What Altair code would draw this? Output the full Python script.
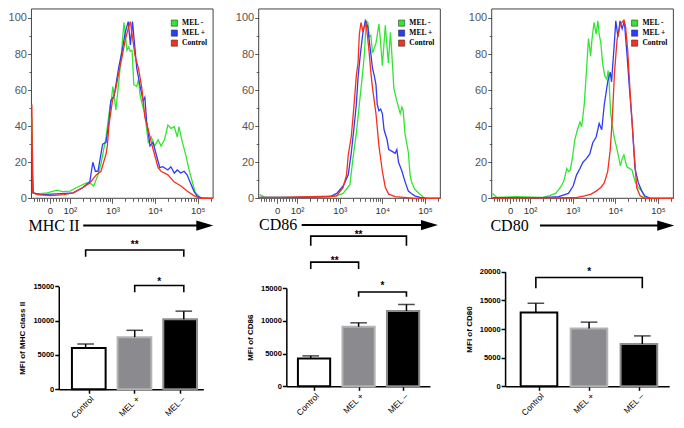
import altair as alt
import numpy as np
import pandas as pd

W, H = 668, 412
SX, SY = W / 684.0, H / 428.0


def px(v):
    return round(v * SX, 2)


def py(v):
    return round(v * SY, 2)


# ---------------- histogram data (x: display log10 fluorescence, y: % of max) ----
series_names = ["MEL -", "MEL +", "Control"]
series_colors = ["#33e533", "#2d3cf5", "#f5301e"]

mhc_ctrl_t = [1.11, 1.13, 1.24, 1.55, 1.86, 2.08, 2.31, 2.47, 2.62, 2.73, 2.85, 2.88, 2.92, 3.00, 3.08,
              3.15, 3.23, 3.30, 3.38, 3.42, 3.46, 3.53, 3.61, 3.69, 3.76, 3.84, 3.91, 3.99, 4.07, 4.14,
              4.30, 4.45, 4.60, 4.75, 4.91, 5.06, 5.36]
mhc_ctrl_y = [52, 3, 2, 1.5, 2, 3, 6, 8.5, 13, 15, 24.5, 29, 41, 54, 61, 70, 79, 88, 95, 98,
              91, 79, 72, 61, 45, 38, 31, 24, 17, 15, 13, 9, 7, 4, 1.5, 0, 0]
mhc_plus_t = [1.11, 1.14, 1.32, 1.70, 2.08, 2.31, 2.47, 2.54, 2.60, 2.66, 2.77, 2.85, 2.92, 2.96, 3.04,
              3.15, 3.23, 3.30, 3.37, 3.42, 3.47, 3.57, 3.65, 3.72, 3.76, 3.80, 3.88, 3.95, 4.03, 4.11,
              4.18, 4.30, 4.37, 4.45, 4.52, 4.60, 4.68, 4.75, 4.83, 4.91, 4.98, 5.10, 5.36]
mhc_plus_y = [20, 3, 2, 2.5, 3, 6, 9.4, 20, 15, 15, 30, 31, 43, 54, 57, 73, 82, 92, 98, 85,
              98, 72, 62, 54, 56, 43, 29, 31, 24, 17, 17.5, 15.7, 17.5, 14, 15.7, 14, 15, 13, 8.5, 4,
              1.4, 0, 0]
mhc_minus_t = [1.11, 1.14, 1.24, 1.47, 1.70, 1.82, 2.01, 2.16, 2.39, 2.50, 2.56, 2.66, 2.73, 2.77, 2.85,
               2.92, 2.98, 3.01, 3.08, 3.15, 3.19, 3.23, 3.27, 3.30, 3.34, 3.38, 3.42, 3.46, 3.50, 3.57,
               3.61, 3.65, 3.72, 3.76, 3.84, 3.91, 3.99, 4.07, 4.14, 4.22, 4.30, 4.37, 4.45, 4.52, 4.56,
               4.64, 4.72, 4.79, 4.87, 4.94, 5.06, 5.36]
mhc_minus_y = [45, 3, 2.5, 3, 4.5, 3.7, 4, 6, 8.5, 8, 6.8, 13, 19, 24, 34, 47, 56, 62, 49, 65,
               75, 86, 97.5, 91, 82, 84, 81.5, 82, 63, 62, 66, 57, 50, 47, 31, 34, 29, 32.5, 29, 32.5,
               40.6, 38.8, 39.7, 34, 39.7, 31, 24, 16.5, 9.4, 3.2, 0.5, 0]

cd86_ctrl_t = [1.12, 1.63, 2.55, 2.78, 2.93, 3.08, 3.16, 3.20, 3.27, 3.33, 3.39, 3.43, 3.46, 3.50, 3.54,
               3.58, 3.62, 3.66, 3.69, 3.73, 3.77, 3.85, 3.92, 4.00, 4.07, 4.15, 4.30, 4.76, 5.36]
cd86_ctrl_y = [0.5, 0.5, 1, 1, 1.4, 6, 13, 24, 34, 50, 68, 75, 91, 97.5, 93, 95, 96.6, 88, 81, 70,
               61, 47, 29, 15, 6, 2.3, 0.9, 0, 0]
cd86_plus_t = [1.12, 2.02, 2.78, 2.93, 3.08, 3.20, 3.27, 3.33, 3.39, 3.43, 3.48, 3.54, 3.60, 3.66, 3.69,
               3.77, 3.81, 3.85, 3.88, 3.92, 3.96, 4.00, 4.04, 4.11, 4.15, 4.23, 4.30, 4.34, 4.38, 4.46,
               4.53, 4.61, 4.68, 4.76, 4.88, 5.07, 5.36]
cd86_plus_y = [0.5, 0.5, 1, 2.7, 6.8, 13, 25, 38, 52, 67, 79, 91, 98.4, 95, 88, 72, 68, 63, 52, 48.6,
               49.5, 47, 38, 32.6, 27, 26, 25, 27, 20, 15, 9.4, 4, 2.7, 1.4, 0.5, 0, 0]
cd86_minus_t = [1.12, 1.25, 2.47, 2.93, 3.08, 3.24, 3.31, 3.39, 3.46, 3.54, 3.58, 3.62, 3.66, 3.69, 3.73,
                3.77, 3.85, 3.92, 3.96, 4.00, 4.07, 4.14, 4.19, 4.23, 4.27, 4.34, 4.42, 4.46, 4.49, 4.53,
                4.61, 4.65, 4.68, 4.76, 4.88, 4.99, 5.36]
cd86_minus_y = [2, 0.5, 0.5, 1.4, 2.7, 7.7, 22, 36, 52, 70, 80.6, 98.4, 97.5, 89.5, 90.4, 80.6, 86, 96.6,
                86, 73.5, 96, 75, 92, 77, 61, 54, 47, 50.5, 48.6, 36, 25.4, 13, 9.4, 5, 2.3, 0, 0]

cd80_ctrl_t = [1.12, 3.05, 3.28, 3.43, 3.55, 3.66, 3.74, 3.82, 3.88, 3.93, 3.98, 4.04, 4.12, 4.20, 4.24,
               4.29, 4.35, 4.43, 4.50, 4.58, 4.69, 5.36]
cd80_ctrl_y = [0, 0.3, 1.4, 2.3, 4, 6, 8.5, 14.8, 27, 45, 70, 88, 96.6, 98.8, 95, 82, 57, 29, 6, 1.4, 0, 0]
cd80_plus_t = [1.12, 2.29, 2.67, 2.90, 3.01, 3.09, 3.17, 3.24, 3.32, 3.40, 3.47, 3.55, 3.62, 3.68, 3.74,
               3.82, 3.88, 3.91, 3.97, 4.01, 4.06, 4.11, 4.16, 4.21, 4.27, 4.33, 4.39, 4.46, 4.54, 4.62,
               4.69, 4.81, 5.36]
cd80_plus_y = [0.3, 0.3, 0.9, 2.7, 6.8, 13, 16.5, 20, 22, 24.6, 30.8, 34, 41.5, 38, 52, 64.6, 70, 64.6,
               84, 98.4, 89.5, 98.4, 94, 98.4, 80.6, 61, 43, 16.5, 8.5, 4, 1.4, 0, 0]
cd80_minus_t = [1.12, 1.22, 1.68, 2.29, 2.44, 2.60, 2.71, 2.79, 2.86, 2.90, 2.94, 2.99, 3.05, 3.11, 3.17,
                3.21, 3.27, 3.32, 3.37, 3.42, 3.45, 3.50, 3.55, 3.59, 3.62, 3.66, 3.70, 3.75, 3.80, 3.83,
                3.85, 3.89, 3.97, 4.04, 4.12, 4.16, 4.20, 4.27, 4.39, 4.46, 4.54, 4.62, 4.69, 4.88, 5.36]
cd80_minus_y = [2.7, 0.5, 0.9, 0.5, 1.4, 2.7, 6, 9.4, 16.5, 14.8, 15.5, 22, 32.6, 38, 42.3, 39.7, 52, 70,
                88.6, 78.8, 87.7, 97.5, 91, 98.4, 91, 86, 75, 68, 66, 70.8, 65.5, 47, 34, 27, 18, 22, 24,
                17.4, 15.7, 9.4, 6, 4, 0.5, 0, 0]

# axis of the flow histograms
hist_major_values = [1.53, 2, 3, 4, 5]
hist_major_labels = ["0", "10\u00b2", "10\u00b3", "10\u2074", "10\u2075"]
hist_linear_minor = [1.16, 1.22, 1.28, 1.34, 1.40, 1.46, 1.60, 1.67, 1.74, 1.81, 1.88, 1.94]
hist_log_minor = [round(d + np.log10(k), 3) for d in (2, 3, 4) for k in range(2, 10)] + [5.301]
hist_pct_ticks = list(range(0, 101, 10))

# ---------------- bar data ----------------
bar_categories = ["Control", "MEL +", "MEL \u2013"]
bar_fills = ["#ffffff", "#8b8b8f", "#000000"]
bar_strokes = ["#000000", "#b3b3b3", "#8c8c8c"]

mhc_mean = [6000, 7600, 10200]
mhc_top = [6600, 8600, 11400]
cd86_mean = [4250, 9100, 11500]
cd86_top = [4650, 9700, 12500]
cd80_mean = [12900, 10100, 7400]
cd80_top = [14500, 11200, 8800]

# brackets: (from index, to index, bar level, leg end, stars, star level)
mhc_brackets = [(0, 2, 20330, 19350, "**", 21300), (1, 2, 15140, 14160, "*", 15900)]
cd86_brackets = [(0, 2, 22940, 21470, "**", 23450), (0, 1, 18970, 17940, "**", 19500),
                 (1, 2, 14410, 13680, "*", 15650)]
cd80_brackets = [(0, 2, 18990, 17140, "*", 20300)]

HX_DOMAIN = [1.1, 5.36]
HY_DOMAIN = [0, 105]
ARROW_PATH = "M-1,-0.6L1,0L-1,0.6Z"


def nested_ternary(values, labels):
    parts = [f"datum.value == {v} ? '{l}'" for v, l in zip(values, labels)]
    return " : ".join(parts) + " : ''"


def hist_panel(L, ctrl, plus, minus, label, label_x, line_x0, line_x1, arrow_y):
    rows = []
    for name, (ts, ys) in zip(series_names, [minus, plus, ctrl]):
        for t, v in zip(ts, ys):
            rows.append({"t": t, "pct": v, "series": name})
    df = pd.DataFrame(rows)
    hx = alt.Scale(domain=HX_DOMAIN, range=[px(L), px(L + 186)], nice=False, zero=False)
    hy = alt.Scale(domain=HY_DOMAIN, range=[py(197.7), py(1)], nice=False, zero=False)
    cscale = alt.Scale(domain=series_names, range=series_colors)
    tick_vals = sorted(hist_major_values + hist_linear_minor + hist_log_minor)
    x_axis = alt.Axis(
        orient="bottom", offset=py(197.7) - H, values=tick_vals,
        labelExpr=nested_ternary(hist_major_values, hist_major_labels),
        tickSize={"condition": {"test": f"indexof({hist_major_values}, datum.value) >= 0", "value": 5},
                  "value": 3},
        tickColor="#333", tickWidth=0.8, domain=False, grid=False,
        labelFont="Liberation Sans", labelFontSize=9.5, labelColor="#333", labelPadding=2,
        labelOverlap=False, labelFlush=False, title=None)
    y_axis = alt.Axis(
        orient="left", offset=-px(L), values=hist_pct_ticks,
        labelExpr="datum.value % 20 == 0 ? datum.value : ''",
        tickSize={"condition": {"test": "datum.value % 20 == 0", "value": 4}, "value": 2.5},
        tickColor="#333", tickWidth=0.8, domain=False, grid=False,
        labelFont="Liberation Sans", labelFontSize=11, labelColor="#555", labelPadding=1, title=None)
    lines = alt.Chart(df).mark_line(strokeWidth=1.3).encode(
        x=alt.X("t:Q", scale=hx, axis=x_axis),
        y=alt.Y("pct:Q", scale=hy, axis=y_axis),
        color=alt.Color("series:N", scale=cscale, legend=None),
    )
    key_df = pd.DataFrame({"series": series_names, "t": [HX_DOMAIN[0]] * 3, "pct": [0] * 3})
    key = alt.Chart(key_df).mark_square(opacity=0, size=1).encode(
        x=alt.X("t:Q", scale=hx, axis=None),
        y=alt.Y("pct:Q", scale=hy, axis=None),
        color=alt.Color("series:N", scale=cscale,
                        legend=alt.Legend(orient="none", legendX=px(L + 142.5), legendY=py(11.8),
                                          title=None, symbolType="square", symbolSize=38,
                                          symbolOpacity=1, symbolStrokeColor="#333",
                                          symbolStrokeWidth=0.6,
                                          labelFont="Liberation Serif", labelFontSize=7.5,
                                          labelFontWeight="bold", labelColor="#000", labelOffset=4,
                                          rowPadding=0, padding=0)),
    )
    frame_df = pd.DataFrame({"x0": [HX_DOMAIN[0]], "x1": [HX_DOMAIN[1]],
                             "y0": [HY_DOMAIN[0]], "y1": [HY_DOMAIN[1]]})
    frame = alt.Chart(frame_df).mark_rect(fillOpacity=0, stroke="#444", strokeWidth=1).encode(
        x=alt.X("x0:Q", scale=hx, axis=None), x2="x1:Q",
        y=alt.Y("y0:Q", scale=hy, axis=None), y2="y1:Q")
    lab_df = pd.DataFrame({"label": [label]})
    text = alt.Chart(lab_df).mark_text(font="Liberation Serif", fontSize=16, align="left",
                                       baseline="middle", color="black").encode(
        x=alt.value(px(label_x)), y=alt.value(py(arrow_y)), text="label:N")
    shaft = alt.Chart(lab_df).mark_rule(strokeWidth=2, color="black").encode(
        x=alt.value(px(line_x0)), x2=alt.value(px(line_x1 - 12)), y=alt.value(py(arrow_y)))
    head = alt.Chart(lab_df).mark_point(shape=ARROW_PATH, filled=True, color="black",
                                        opacity=1, size=289, strokeWidth=0).encode(
        x=alt.value(px(line_x1 - 8.5)), y=alt.value(py(arrow_y)))
    return [frame, lines, key, text, shaft, head]


def bar_panel(L, R, centers, bar_w, y0, ytop, ymax, yticks, title, means, tops, brackets):
    c0 = centers[0]
    step = (centers[2] - centers[0]) / 2.0
    xs = alt.Scale(domain=[(L - c0) / step, (R - c0) / step], range=[px(L), px(R)],
                   nice=False, zero=False)
    ys = alt.Scale(domain=[0, ymax], range=[py(y0), py(ytop)], nice=False, zero=False)
    df = pd.DataFrame({"idx": [0, 1, 2], "cat": bar_categories, "mean": means, "top": tops})
    cat_expr = nested_ternary([0, 1, 2], bar_categories)
    x_axis = alt.Axis(orient="bottom", offset=py(y0) - H, values=[0, 1, 2], labelExpr=cat_expr,
                      labelAngle=315, labelFont="Liberation Sans", labelFontSize=8.5,
                      labelColor="black", labelPadding=1, tickSize=4, tickWidth=1.5,
                      tickColor="black", domainColor="black", domainWidth=1.5, grid=False,
                      title=None, labelOverlap=False)
    y_axis = alt.Axis(orient="left", offset=-px(L), values=yticks, format="d",
                      labelFont="Liberation Sans", labelFontSize=7.5, labelFontWeight="bold",
                      labelColor="black", labelPadding=1, tickSize=4, tickWidth=1.5,
                      tickColor="black", domainColor="black", domainWidth=1.5, grid=False,
                      title=title, titleFont="Liberation Sans", titleFontSize=8,
                      titleFontWeight="bold", titleColor="black", titlePadding=6)
    bars = alt.Chart(df).mark_bar(size=px(bar_w), strokeWidth=2, orient="vertical").encode(
        x=alt.X("idx:Q", scale=xs, axis=x_axis),
        y=alt.Y("mean:Q", scale=ys, axis=y_axis),
        fill=alt.Fill("cat:N", scale=alt.Scale(domain=bar_categories, range=bar_fills), legend=None),
        stroke=alt.Stroke("cat:N", scale=alt.Scale(domain=bar_categories, range=bar_strokes),
                          legend=None),
    )
    err = alt.Chart(df).mark_rule(strokeWidth=1.5, color="black").encode(
        x=alt.X("idx:Q", scale=xs, axis=None), y=alt.Y("mean:Q", scale=ys, axis=None), y2="top:Q")
    cap = alt.Chart(df).mark_tick(orient="horizontal", size=px(17), thickness=1.5,
                                  color="black").encode(
        x=alt.X("idx:Q", scale=xs, axis=None), y=alt.Y("top:Q", scale=ys, axis=None))
    brows, srows = [], []
    for b, (a, z, lvl, leg, star, slvl) in enumerate(brackets):
        for o, (bx, by) in enumerate([(a, leg), (a, lvl), (z, lvl), (z, leg)]):
            brows.append({"b": b, "o": o, "bx": bx, "by": by})
        srows.append({"sx": (a + z) / 2.0, "sy": slvl, "star": star})
    bdf, sdf = pd.DataFrame(brows), pd.DataFrame(srows)
    brk = alt.Chart(bdf).mark_line(strokeWidth=1.6, color="black").encode(
        x=alt.X("bx:Q", scale=xs, axis=None), y=alt.Y("by:Q", scale=ys, axis=None),
        detail="b:N", order="o:Q")
    stars = alt.Chart(sdf).mark_text(font="Liberation Sans", fontSize=10, fontWeight="bold",
                                     baseline="middle", color="black", dy=2).encode(
        x=alt.X("sx:Q", scale=xs, axis=None), y=alt.Y("sy:Q", scale=ys, axis=None), text="star:N")
    return [bars, err, cap, brk, stars]


layers = []
layers += hist_panel(24, (mhc_ctrl_t, mhc_ctrl_y), (mhc_plus_t, mhc_plus_y),
                     (mhc_minus_t, mhc_minus_y), "MHC II", 21, 77, 210, 226)
layers += hist_panel(256.7, (cd86_ctrl_t, cd86_ctrl_y), (cd86_plus_t, cd86_plus_y),
                     (cd86_minus_t, cd86_minus_y), "CD86", 257, 300.7, 440, 225.5)
layers += hist_panel(495.3, (cd80_ctrl_t, cd80_ctrl_y), (cd80_plus_t, cd80_plus_y),
                     (cd80_minus_t, cd80_minus_y), "CD80", 494, 544.7, 682, 226)
layers += bar_panel(52, 200, [79.5, 130, 180], 34.5, 396, 289.3, 15000, [0, 5000, 10000, 15000],
                    "MFI of MHC class II", mhc_mean, mhc_top, mhc_brackets)
layers += bar_panel(285, 432, [310, 359.5, 408], 33, 393, 291, 15000, [0, 5000, 10000, 15000],
                    "MFI of CD86", cd86_mean, cd86_top, cd86_brackets)
layers += bar_panel(509, 677, [540.5, 596, 649.5], 37.5, 393, 274, 20000,
                    [0, 5000, 10000, 15000, 20000], "MFI of CD80", cd80_mean, cd80_top, cd80_brackets)

chart = alt.layer(*layers).resolve_scale(
    x="independent", y="independent", color="independent"
).resolve_legend(color="independent").properties(
    width=W, height=H, autosize=alt.AutoSizeParams(type="none"), padding=0
).configure_view(stroke=None)

chart.save("out.html", embed_options={"renderer": "svg", "actions": False})
